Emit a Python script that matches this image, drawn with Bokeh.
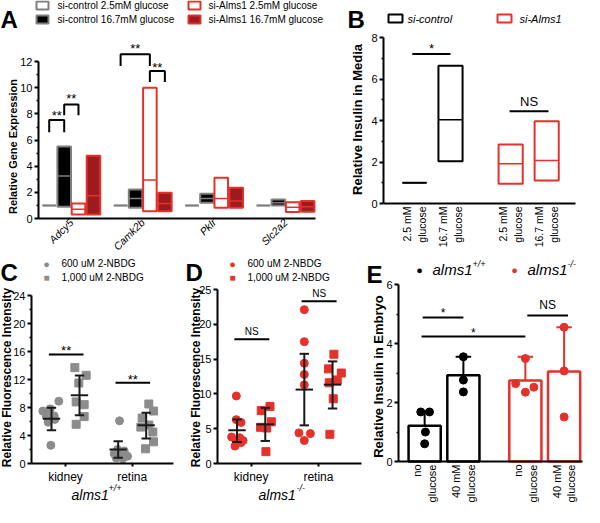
import numpy as np
from math import pi
from bokeh.plotting import figure
from bokeh.models import Range1d, FixedTicker, Label, BoxAnnotation
from bokeh.layouts import row, column
from bokeh.embed import file_html
from bokeh.resources import INLINE
from bokeh.core.properties import value

FONT = "Liberation Sans"
RED = "#e4322b"
DKRED = "#9b1b1f"
GRAY = "#7f7f7f"
LTGRAY = "#8c8c8c"
INK = "#1a1a1a"

# ---------------- Panel A data ----------------
genes = ["Adcy5", "Camk2b", "Pklr", "Slc2a2"]
a_series = ["si-control 2.5mM glucose", "si-control 16.7mM glucose",
            "si-Alms1 2.5mM glucose", "si-Alms1 16.7mM glucose"]
a_ctrl25_min = [1.0, 1.0, 1.0, 1.0]
a_ctrl25_mean = [1.0, 1.0, 1.0, 1.0]
a_ctrl25_max = [1.0, 1.0, 1.0, 1.0]
a_ctrl167_min = [0.9, 0.82, 1.2, 1.0]
a_ctrl167_mean = [3.25, 1.53, 1.53, 1.2]
a_ctrl167_max = [5.5, 2.22, 1.89, 1.46]
a_alms25_min = [0.3, 0.56, 0.82, 0.49]
a_alms25_mean = [0.7, 2.94, 1.53, 0.87]
a_alms25_max = [1.15, 10.0, 3.11, 1.25]
a_alms167_min = [0.3, 0.56, 0.82, 0.51]
a_alms167_mean = [1.75, 1.15, 1.33, 0.89]
a_alms167_max = [4.8, 1.97, 2.35, 1.33]
# significance brackets: gene index, from series, to series, top, leg end, label height
a_sig_gene = [0, 0, 1, 1]
a_sig_from = [0, 1, 0, 2]
a_sig_to = [1, 2, 2, 3]
a_sig_top = [7.53, 8.73, 12.56, 11.28]
a_sig_leg = [6.6, 7.9, 11.67, 10.44]
a_sig_ty = [8.1, 9.43, 13.2, 11.8]
a_sig_txt = ["**", "**", "**", "**"]

# ---------------- Panel B data ----------------
b_labels = ["2.5 mM\nglucose", "16.7 mM\nglucose", "2.5 mM\nglucose", "16.7 mM\nglucose"]
b_pos = [0.0, 1.0, 2.67, 3.67]
b_min = [1.0, 2.04, 0.95, 1.11]
b_mean = [1.0, 4.04, 1.91, 2.07]
b_max = [1.0, 6.64, 2.84, 3.96]
b_sig_x0 = [-0.06, 2.64]
b_sig_x1 = [1.0, 3.72]
b_sig_y = [7.2, 4.45]
b_sig_ty = [7.6, 4.93]
b_sig_txt = ["*", "NS"]

# ---------------- Panel C data ----------------
tissues = ["kidney", "retina"]
c_k600 = [8.9, 7.8, 7.5, 6.8, 6.8, 6.3, 5.9, 2.6]
c_k600_dx = [-0.10, -0.23, -0.34, -0.29, -0.17, -0.16, -0.26, -0.22]
c_k1000 = [13.7, 12.6, 11.5, 8.8, 8.4, 6.7, 5.6]
c_k1000_dx = [0.14, 0.31, 0.20, 0.16, 0.28, 0.28, 0.16]
c_r600 = [6.1, 2.0, 1.8, 1.4, 1.3, 1.05, 0.8, 0.7]
c_r600_dx = [-0.19, -0.22, -0.12, -0.27, -0.17, -0.07, -0.24, -0.14]
c_r1000 = [8.5, 7.5, 6.5, 5.5, 5.2, 4.5, 3.1, 2.1]
c_r1000_dx = [0.25, 0.32, 0.15, 0.25, 0.13, 0.31, 0.32, 0.20]
c_mean = [6.38, 9.76, 2.0, 5.48]
c_lo = [4.76, 6.9, 0.81, 3.57]
c_hi = [7.95, 12.57, 3.19, 7.24]
c_sig_y = [15.57, 11.52]
c_sig_ty = [16.6, 12.5]
c_sig_txt = ["**", "**"]

# ---------------- Panel D data ----------------
d_k600 = [9.7, 6.3, 5.9, 3.8, 3.7, 3.3, 3.2, 3.0, 2.5]
d_k600_dx = [-0.22, -0.22, -0.15, -0.29, -0.17, -0.12, -0.22, -0.15, -0.24]
d_k1000 = [8.2, 7.6, 6.0, 5.2, 5.1, 1.7]
d_k1000_dx = [0.28, 0.15, 0.30, 0.14, 0.23, 0.22]
d_r600 = [22.1, 17.5, 14.4, 12.8, 11.3, 4.4, 4.3, 3.3]
d_r600_dx = [-0.21, -0.21, -0.21, -0.21, -0.21, -0.29, -0.12, -0.21]
d_r1000 = [15.7, 13.6, 13.0, 12.0, 11.6, 9.3, 4.2]
d_r1000_dx = [0.23, 0.15, 0.34, 0.28, 0.16, 0.22, 0.17]
d_mean = [4.76, 5.62, 10.62, 11.33]
d_lo = [3.1, 3.24, 5.48, 7.9]
d_hi = [6.33, 8.0, 15.76, 14.67]
d_sig_y = [17.86, 23.3]
d_sig_ty = [19.0, 24.4]
d_sig_txt = ["NS", "NS"]

# ---------------- Panel E data ----------------
e_labels = ["no\nglucose", "40 mM\nglucose", "no\nglucose", "40 mM\nglucose"]
e_pos = [0.0, 1.0, 2.6, 3.6]
e_mean = [1.21, 2.92, 2.75, 3.05]
e_hi = [1.70, 3.55, 3.55, 4.55]
e_pts = [[1.68, 1.68, 1.0, 0.6], [3.55, 2.76, 2.36], [3.49, 2.64, 2.35, 2.52], [4.55, 3.07, 1.51]]
e_pts_dx = [[-0.10, 0.125, 0.02, 0.0], [0.0, 0.0, 0.0], [0.0, -0.25, 0.0, 0.22], [0.0, 0.0, 0.0]]
e_sig_x0 = [-0.05, -0.08, 2.65]
e_sig_x1 = [1.0, 2.6, 3.7]
e_sig_y = [4.88, 4.24, 4.95]
e_sig_ty = [5.15, 4.47, 5.29]
e_sig_txt = ["*", "*", "NS"]


# ---------------- helpers ----------------
def make_fig(w, h, g, xd, yd, ybounds=None):
    """Frame covers the whole canvas; axes are pinned (fixed_location) at the data box g."""
    fl, ft, fr, fb = g
    sx = (fr - fl) / (xd[1] - xd[0])
    sy = (fb - ft) / (yd[1] - yd[0])
    xr = Range1d(xd[0] - fl / sx, xd[1] + (w - fr) / sx)
    yr = Range1d(yd[0] - (h - fb) / sy, yd[1] + ft / sy)
    p = figure(width=w, height=h, x_range=xr, y_range=yr,
               output_backend="svg", toolbar_location=None, min_border=0)
    p.outline_line_color = None
    p.grid.visible = False
    p.background_fill_color = "white"
    p.border_fill_color = "white"
    p.xaxis.fixed_location = yd[0]
    p.yaxis.fixed_location = xd[0]
    p.xaxis.bounds = tuple(xd)
    p.yaxis.bounds = tuple(ybounds if ybounds is not None else yd)
    for ax in (p.xaxis[0], p.yaxis[0]):
        ax.axis_line_width = 2
        ax.axis_line_color = "black"
        ax.major_tick_line_width = 2
        ax.minor_tick_line_width = 1.5
        ax.major_tick_in = 0
        ax.minor_tick_in = 0
        ax.major_tick_out = 4
        ax.minor_tick_out = 2
        ax.major_label_text_font = FONT
        ax.major_label_text_font_size = "11px"
        ax.major_label_text_color = "black"
        ax.major_label_standoff = 2
    return p, (0, 0, w, h)


def set_x(p, pos, labels, orient="horizontal", size="11px", style="normal", tick_out=0, standoff=3):
    ax = p.xaxis[0]
    ax.ticker = FixedTicker(ticks=[float(v) for v in pos], minor_ticks=[])
    ax.major_label_overrides = {float(v): t for v, t in zip(pos, labels)}
    ax.major_label_orientation = orient
    ax.major_label_text_font_size = size
    ax.major_label_text_font_style = style
    ax.major_tick_out = tick_out
    ax.major_label_standoff = standoff


def set_y(p, ticks, minor):
    ax = p.yaxis[0]
    ax.ticker = FixedTicker(ticks=ticks, minor_ticks=minor)


def lab(p, c, x, y, text, size, style="normal", color="black", align="left",
        baseline="middle", angle=0.0):
    h = c[3]
    p.add_layout(Label(x=x, y=h - y, x_units="screen", y_units="screen", text=text,
                       text_font=FONT, text_font_size=f"{size}px", text_font_style=style,
                       text_color=color, text_align=align, text_baseline=baseline, angle=angle))


def box(p, c, x0, y0, x1, y1, fill, line):
    h = c[3]
    p.add_layout(BoxAnnotation(left=x0, right=x1, top=h - y0, bottom=h - y1,
                               left_units="screen", right_units="screen",
                               top_units="screen", bottom_units="screen",
                               fill_color=fill, fill_alpha=1.0, line_color=line,
                               line_alpha=1.0, line_width=2))


def sig_text(p, xs, ys, texts, size):
    offs = [3 if t.startswith("*") else 0 for t in texts]
    p.text(x=xs, y=ys, text=texts, text_font=value(FONT), text_font_size=f"{size}px",
           text_align="center", text_baseline="middle", text_color="black", y_offset=offs)


def hlines(p, x0, x1, y):
    p.segment(x0=x0, x1=x1, y0=y, y1=y, line_color="black", line_width=2)


# ---------------- Panel A ----------------
pA, cA = make_fig(327, 251, (38, 35, 315, 218), (-0.46, 3.42), (0, 14), ybounds=(0, 12))
set_y(pA, [0, 2, 4, 6, 8, 10, 12], [1, 3, 5, 7, 9, 11])
set_x(pA, range(len(genes)), genes, orient=pi / 4, size="10.5px", style="italic", standoff=2)
a_min = [a_ctrl25_min, a_ctrl167_min, a_alms25_min, a_alms167_min]
a_mean = [a_ctrl25_mean, a_ctrl167_mean, a_alms25_mean, a_alms167_mean]
a_max = [a_ctrl25_max, a_ctrl167_max, a_alms25_max, a_alms167_max]
a_fill = ["white", "black", "white", DKRED]
a_line = [GRAY, GRAY, RED, RED]
a_off = [-0.31, -0.10, 0.10, 0.31]
A_W = 0.19
xg = np.arange(len(genes))
for k in range(4):
    xs = xg + a_off[k]
    pA.quad(left=xs - A_W / 2, right=xs + A_W / 2, bottom=a_min[k], top=a_max[k],
            fill_color=a_fill[k], line_color=a_line[k], line_width=2)
    pA.segment(x0=xs - A_W / 2, x1=xs + A_W / 2, y0=a_mean[k], y1=a_mean[k],
               line_color=a_line[k], line_width=1.5)
bx0 = [a_sig_gene[i] + a_off[a_sig_from[i]] for i in range(4)]
bx1 = [a_sig_gene[i] + a_off[a_sig_to[i]] for i in range(4)]
pA.multi_line(xs=[[bx0[i], bx0[i], bx1[i], bx1[i]] for i in range(4)],
              ys=[[a_sig_leg[i], a_sig_top[i], a_sig_top[i], a_sig_leg[i]] for i in range(4)],
              line_color="black", line_width=2)
sig_text(pA, [(bx0[i] + bx1[i]) / 2 for i in range(4)], a_sig_ty, a_sig_txt, 13)
lab(pA, cA, 12, 146, "Relative Gene Expression", 11, style="bold", align="center", angle=pi / 2)
lab(pA, cA, 0, 19, "A", 24, style="bold", baseline="alphabetic")
box(pA, cA, 36, 1, 48, 9, "white", GRAY)
box(pA, cA, 36, 15, 48, 23, "black", GRAY)
box(pA, cA, 188, 1, 200, 9, "white", RED)
box(pA, cA, 188, 15, 200, 23, DKRED, RED)
lab(pA, cA, 57, 5, a_series[0], 10)
lab(pA, cA, 57, 19, a_series[1], 10)
lab(pA, cA, 208, 5, a_series[2], 10)
lab(pA, cA, 208, 19, a_series[3], 10)

# ---------------- Panel B ----------------
pB, cB = make_fig(257, 251, (56, 37, 248, 203), (-0.86, 4.47), (0, 8))
set_y(pB, [0, 2, 4, 6, 8], [1, 3, 5, 7])
set_x(pB, b_pos, b_labels, orient=pi / 2, size="10.5px", standoff=3)
B_W = 0.67
b_col = ["black", "black", RED, RED]
bp = np.array(b_pos)
pB.quad(left=bp - B_W / 2, right=bp + B_W / 2, bottom=b_min, top=b_max,
        fill_color=None, line_color=b_col, line_width=2)
pB.segment(x0=bp - B_W / 2, x1=bp + B_W / 2, y0=b_mean, y1=b_mean, line_color=b_col, line_width=1.5)
hlines(pB, b_sig_x0, b_sig_x1, b_sig_y)
sig_text(pB, [(a + b) / 2 for a, b in zip(b_sig_x0, b_sig_x1)], b_sig_ty, b_sig_txt, 13)
lab(pB, cB, 30, 119, "Relative Insulin in Media", 13, style="bold", align="center", angle=pi / 2)
lab(pB, cB, 20, 19, "B", 24, style="bold", baseline="alphabetic")
box(pB, cB, 61, 14, 75, 22, "white", "black")
box(pB, cB, 170, 14, 184, 22, "white", RED)
lab(pB, cB, 80, 18, "si-control", 11, style="italic")
lab(pB, cB, 192, 18, "si-Alms1", 11, style="italic")


# ---------------- dot plot helper ----------------
def dot_panel(p, groups, mean, lo, hi, color, sig_y, sig_ty, sig_txt, sig_size):
    for cat, side, vals, dxs, marker in groups:
        xs = [cat + d for d in dxs]
        p.scatter(xs, vals, marker=marker, size=8, fill_color=color, line_color=color)
    cx = np.array([g_[0] + g_[1] * 0.21 for g_ in groups])
    p.segment(x0=cx - 0.13, x1=cx + 0.13, y0=mean, y1=mean, line_color=INK, line_width=2)
    p.segment(x0=cx, x1=cx, y0=lo, y1=hi, line_color=INK, line_width=2)
    p.segment(x0=cx - 0.07, x1=cx + 0.07, y0=lo, y1=lo, line_color=INK, line_width=2)
    p.segment(x0=cx - 0.07, x1=cx + 0.07, y0=hi, y1=hi, line_color=INK, line_width=2)
    tx = np.arange(len(tissues))
    hlines(p, tx - 0.25, tx + 0.27, sig_y)
    sig_text(p, list(tx + 0.01), sig_ty, sig_txt, sig_size)


# ---------------- Panel C ----------------
pC, cC = make_fig(182, 255, (31, 44, 173, 212), (-0.51, 1.62), (0, 24))
set_y(pC, [0, 4, 8, 12, 16, 20, 24], [2, 6, 10, 14, 18, 22])
set_x(pC, range(len(tissues)), tissues, size="12px", tick_out=3, standoff=3)
dot_panel(pC, [(0, -1, c_k600, c_k600_dx, "circle"), (0, 1, c_k1000, c_k1000_dx, "square"),
               (1, -1, c_r600, c_r600_dx, "circle"), (1, 1, c_r1000, c_r1000_dx, "square")],
          c_mean, c_lo, c_hi, LTGRAY, c_sig_y, c_sig_ty, c_sig_txt, 13)
lab(pC, cC, 6, 126, "Relative Fluorescence Intensity", 12, style="bold", align="center", angle=pi / 2)
lab(pC, cC, 0, 21, "C", 24, style="bold", baseline="alphabetic")
lab(pC, cC, 46, 12, "\u25cf", 11, color=LTGRAY, align="center")
lab(pC, cC, 46, 26, "\u25a0", 10, color=LTGRAY, align="center")
lab(pC, cC, 61, 12, "600 uM 2-NBDG", 10)
lab(pC, cC, 61, 26, "1,000 uM 2-NBDG", 10)
lab(pC, cC, 71, 243, "alms1", 14, style="italic")
lab(pC, cC, 108, 236, "+/+", 9, style="italic")

# ---------------- Panel D ----------------
pD, cD = make_fig(184, 255, (35, 38, 179, 212), (-0.5, 1.64), (0, 25))
set_y(pD, [0, 5, 10, 15, 20, 25], [])
set_x(pD, range(len(tissues)), tissues, size="12px", tick_out=3, standoff=3)
dot_panel(pD, [(0, -1, d_k600, d_k600_dx, "circle"), (0, 1, d_k1000, d_k1000_dx, "square"),
               (1, -1, d_r600, d_r600_dx, "circle"), (1, 1, d_r1000, d_r1000_dx, "square")],
          d_mean, d_lo, d_hi, RED, d_sig_y, d_sig_ty, d_sig_txt, 10)
lab(pD, cD, 13, 126, "Relative Fluorescence Intensity", 12, style="bold", align="center", angle=pi / 2)
lab(pD, cD, 3, 21, "D", 24, style="bold", baseline="alphabetic")
lab(pD, cD, 50, 12, "\u25cf", 11, color=RED, align="center")
lab(pD, cD, 50, 26, "\u25a0", 10, color=RED, align="center")
lab(pD, cD, 65, 12, "600 uM 2-NBDG", 10)
lab(pD, cD, 65, 26, "1,000 uM 2-NBDG", 10)
lab(pD, cD, 76, 243, "alms1", 14, style="italic")
lab(pD, cD, 114, 236, "-/-", 9, style="italic")

# ---------------- Panel E ----------------
pE, cE = make_fig(217, 255, (32, 33, 216, 210), (-0.675, 4.075), (0, 6))
set_y(pE, [0, 2, 4, 6], [1, 3, 5])
set_x(pE, e_pos, e_labels, orient=pi / 2, size="11px", standoff=3)
E_W = 0.83
e_col = ["black", "black", RED, RED]
ep = np.array(e_pos)
pE.vbar(x=ep, width=E_W, top=e_mean, bottom=0, fill_color="white", line_color=e_col, line_width=2.5)
pE.segment(x0=ep, x1=ep, y0=e_mean, y1=e_hi, line_color=e_col, line_width=2)
pE.segment(x0=ep - 0.2, x1=ep + 0.2, y0=e_hi, y1=e_hi, line_color=e_col, line_width=2)
for i in range(len(e_pos)):
    pE.scatter([e_pos[i] + d for d in e_pts_dx[i]], e_pts[i], marker="circle", size=8,
               fill_color=e_col[i], line_color=e_col[i])
hlines(pE, e_sig_x0, e_sig_x1, e_sig_y)
sig_text(pE, [(a + b) / 2 for a, b in zip(e_sig_x0, e_sig_x1)], e_sig_ty, e_sig_txt, 12)
lab(pE, cE, 12, 125, "Relative Insulin in Embryo", 13, style="bold", align="center", angle=pi / 2)
lab(pE, cE, 0, 23, "E", 24, style="bold", baseline="alphabetic")
lab(pE, cE, 53, 18, "\u25cf", 11, color="black", align="center")
lab(pE, cE, 66, 18, "alms1", 15, style="italic")
lab(pE, cE, 106, 12, "+/+", 9, style="italic")
lab(pE, cE, 148, 18, "\u25cf", 11, color=RED, align="center")
lab(pE, cE, 161, 18, "alms1", 15, style="italic")
lab(pE, cE, 201, 12, "-/-", 9, style="italic")

layout = column(row(pA, pB), row(pC, pD, pE))
open("out.html", "w").write(file_html(layout, INLINE))
